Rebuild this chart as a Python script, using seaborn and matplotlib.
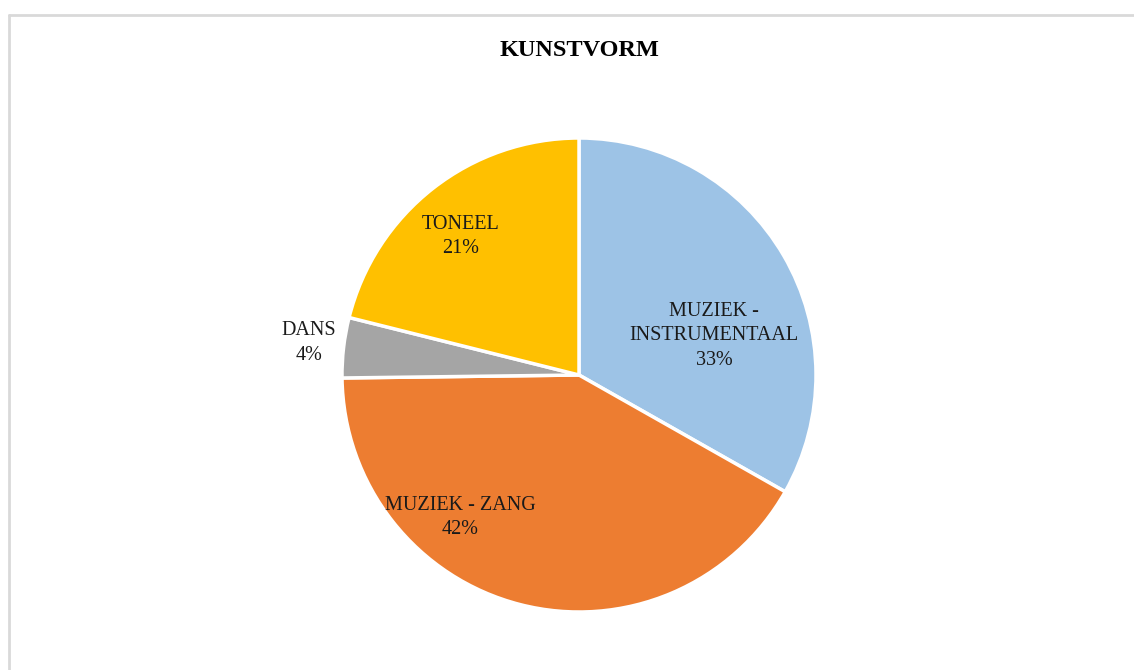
import matplotlib
matplotlib.use("Agg")
import matplotlib.pyplot as plt
from matplotlib.lines import Line2D
import seaborn as sns

# data (share per art form, clockwise from the top)
categories = ["MUZIEK -\nINSTRUMENTAAL", "MUZIEK - ZANG", "DANS", "TONEEL"]
shares = [33.2, 41.6, 4.1, 21.1]
colors = ["#9DC3E6", "#ED7D31", "#A5A5A5", "#FFC000"]

sns.set_theme(style="white")
plt.rcParams["font.family"] = ["Liberation Serif", "DejaVu Serif"]

fig = plt.figure(figsize=(11.34, 6.7), dpi=100)
ax = fig.add_axes([0, 0, 1, 1])

wedges, _ = ax.pie(shares, colors=colors, startangle=90, counterclock=False,
                   wedgeprops=dict(edgecolor="white", linewidth=2.5))

# pie centre at px (579, 375), radius 237 px
ax.set_xlim(-579 / 237, (1134 - 579) / 237)
ax.set_ylim(-(670 - 375) / 237, 375 / 237)
ax.set_aspect("auto")
ax.axis("off")

label_pos = [(0.57, 0.165), (-0.50, -0.60), (-1.14, 0.135), (-0.50, 0.585)]
for cat, val, (x, y) in zip(categories, shares, label_pos):
    ax.text(x, y, f"{cat}\n{round(val):d}%", ha="center", va="center",
            fontsize=14.5, color="#1a1a1a", linespacing=1.38)

fig.text(579 / 1134, 1 - 50 / 670, "KUNSTVORM", ha="center", va="center",
         fontsize=17.5, fontweight="bold", color="black")

# light frame (left and top edges visible)
fig.add_artist(Line2D([9 / 1134, 9 / 1134], [0, 1 - 15 / 670], color="#D9D9D9", lw=2))
fig.add_artist(Line2D([9 / 1134, 1], [1 - 15 / 670, 1 - 15 / 670], color="#D9D9D9", lw=2))

fig.savefig("out.png", dpi=100, facecolor="white")
